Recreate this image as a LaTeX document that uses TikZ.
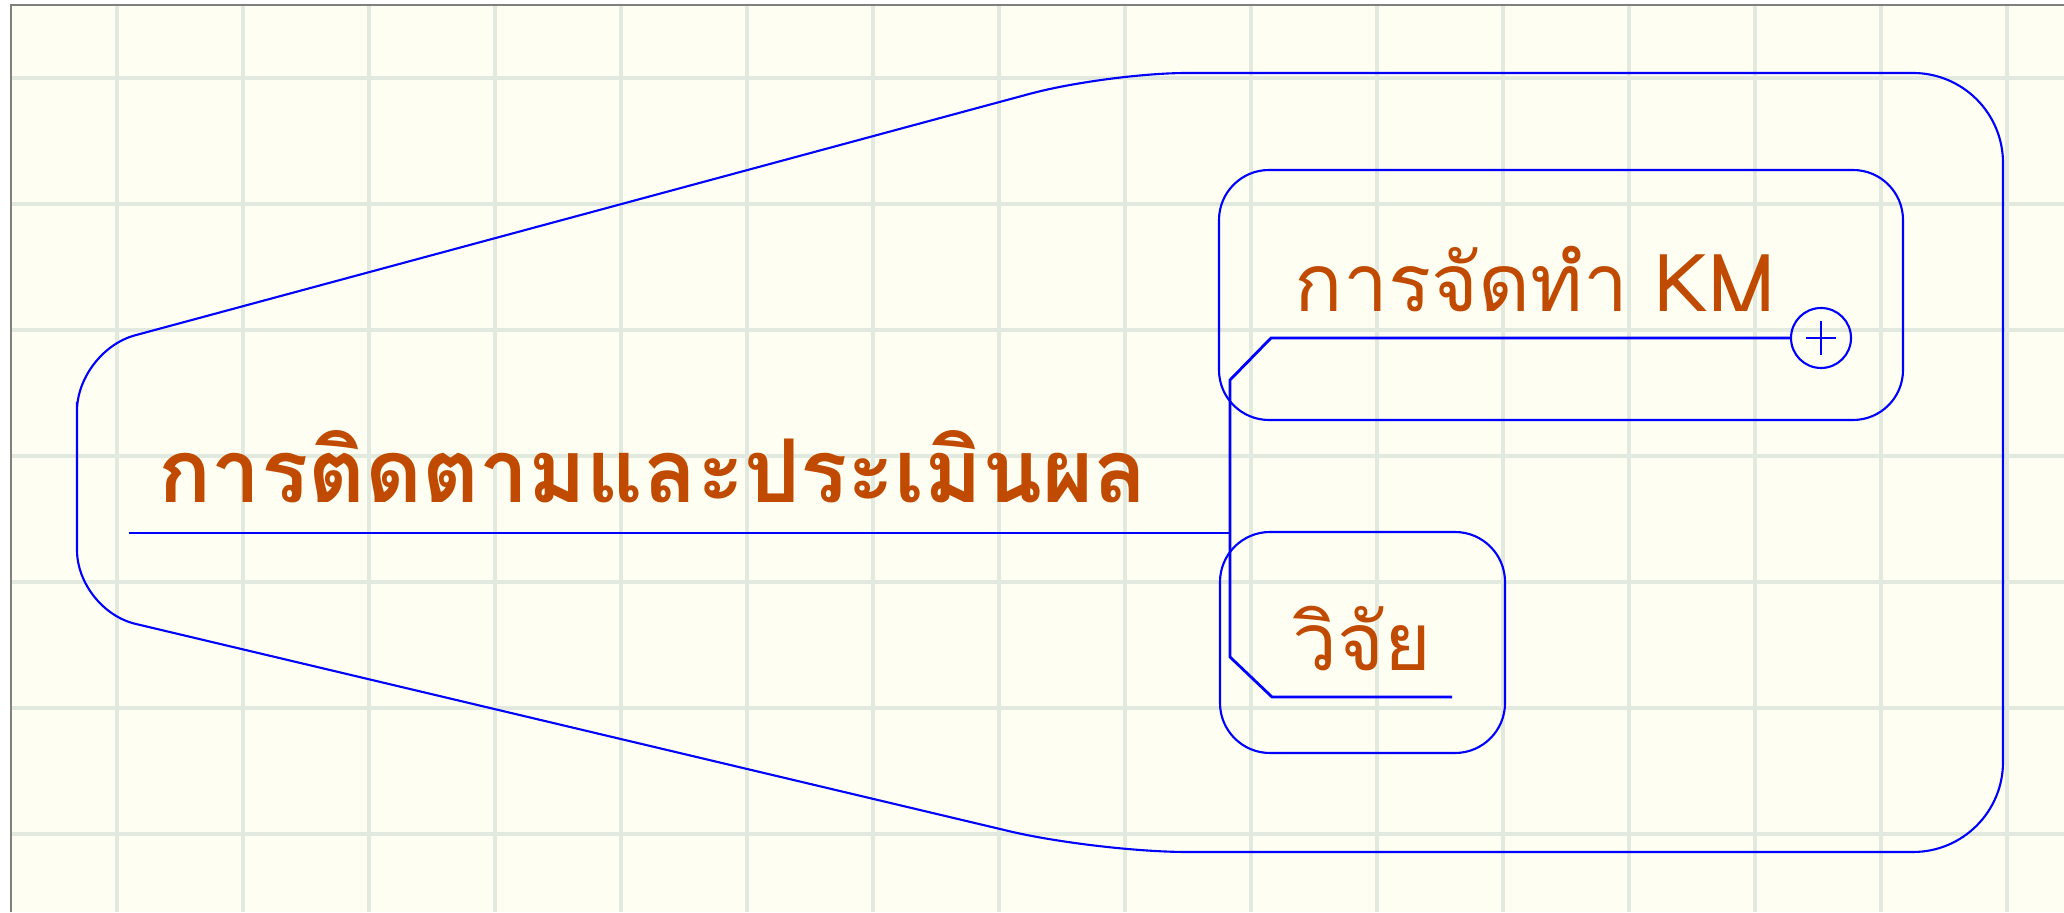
\documentclass[tikz,border=0pt]{standalone}
\usepackage{fontspec}
\usepackage{xcolor}
\usepackage{tikz}
\usetikzlibrary{positioning}
\newfontfamily\thaifont[Script=Thai]{Loma}
\definecolor{paper}{RGB}{254,254,242}
\definecolor{gridgreen}{RGB}{226,233,222}
\definecolor{framegray}{RGB}{128,128,128}
\definecolor{topicbrown}{RGB}{192,74,0}
\tikzstyle{link} = [blue, line width=0.8pt]
\tikzstyle{boundary} = [blue, line width=0.6pt]
\tikzstyle{group} = [rectangle, draw=blue, line width=0.6pt, rounded corners=0.5cm, inner sep=0pt]
\tikzstyle{topic} = [anchor=base west, inner sep=0pt, text=topicbrown, font=\thaifont\fontsize{22.8}{27}\selectfont]
\tikzstyle{maintopic} = [topic, font=\thaifont\bfseries\fontsize{25}{30}\selectfont]
\tikzset{every node/.style={align=center}}

\begin{document}
\begin{tikzpicture}
    \useasboundingbox (0,0) rectangle (20.64,9.12);
    % paper and grid
    \fill[white] (0,0) rectangle (20.64,9.12);
    \fill[paper] (0.11,0) rectangle (20.64,9.07);
    \foreach \x in {1.17,2.43,...,20.5}
        \draw[gridgreen, line width=0.9pt] (\x,0) -- (\x,9.07);
    \foreach \y in {0.78,2.04,...,8.4}
        \draw[gridgreen, line width=0.9pt] (0.11,\y) -- (20.64,\y);
    \draw[framegray, line width=0.6pt] (0.11,0) -- (0.11,9.07) -- (20.64,9.07);

    % boundary round the whole map
    \draw[boundary] (0.77,4.50) [rounded corners=0.6cm] -- (0.77,5.61)
        [rounded corners=0.8cm] -- (11.07,8.39)
        [rounded corners=0.9cm] -- (20.03,8.39) -- (20.03,0.60)
        [rounded corners=0.9cm] -- (10.97,0.60)
        [rounded corners=0.6cm] -- (0.77,3.02) -- cycle;

    % topic groups
    \node (kmgroup) [group, minimum width=6.84cm, minimum height=2.50cm] at (15.61,6.17) {};
    \node (vijaigroup) [group, minimum width=2.85cm, minimum height=2.21cm] at (13.625,2.695) {};

    % topics
    \node (root)  [maintopic] at (1.58,4.09) {การติดตามและประเมินผล};
    \node (km)    [topic] at (12.94,6.00) {การจัดทำ KM};
    \node (vijai) [topic] at (12.92,2.42) {วิจัย};
    \node (plus)  [circle, draw=blue, line width=0.6pt, minimum size=0.6cm, inner sep=0pt] at (18.21,5.74) {};
    \draw[blue, line width=0.6pt] ([xshift=-0.15cm]plus.center) -- ([xshift=0.15cm]plus.center);
    \draw[blue, line width=0.6pt] ([yshift=-0.17cm]plus.center) -- ([yshift=0.17cm]plus.center);

    % branch lines
    \coordinate (rootstart) at (1.29,3.79);
    \coordinate (hub)       at (12.30,3.79);
    \coordinate (kmbend)    at (12.30,5.32);
    \coordinate (kmstart)   at (12.71,5.74);
    \coordinate (vijaibend) at (12.30,2.55);
    \coordinate (vijaistart)at (12.72,2.15);
    \coordinate (vijaiend)  at (14.52,2.15);
    \draw[link] (rootstart) -- (hub);
    \draw[link] (hub) -- (kmbend) -- (kmstart) -- (plus.west);
    \draw[link] (hub) -- (vijaibend) -- (vijaistart) -- (vijaiend);
\end{tikzpicture}
\end{document}
